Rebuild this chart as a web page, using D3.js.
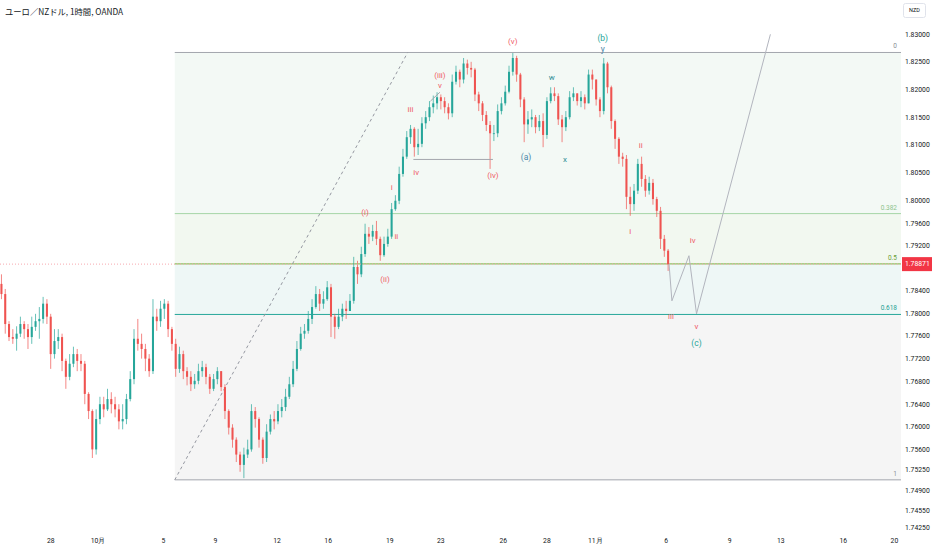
<!DOCTYPE html>
<html>
<head>
<meta charset="utf-8">
<script src="https://d3js.org/d3.v7.min.js"></script>
<style>
  html, body { margin: 0; padding: 0; background: #fff; }
  svg { display: block; font-family: Roboto, "Noto Sans", sans-serif; }
</style>
</head>
<body>
<svg id="chart" width="932" height="550"></svg>
<script>
// EUR/NZD 1h, candles grouped by 4 bars (bar index = trading hour)
const firstOpen = 1.7852;
const closes = [
  1.7834,1.7781,1.7758,1.7755,1.7764,1.7781,1.7772,1.7758,1.7776,1.7786,
  1.7790,1.7817,1.7794,1.7728,1.7751,1.7758,1.7716,1.7688,1.7711,1.7728,
  1.7716,1.7711,1.7658,1.7628,1.7561,1.7614,1.7640,1.7631,1.7649,1.7640,
  1.7631,1.7610,1.7614,1.7649,1.7684,1.7755,1.7746,1.7737,1.7720,1.7698,
  1.7794,1.7786,1.7808,1.7817,1.7772,1.7746,1.7702,1.7728,1.7698,1.7688,
  1.7675,1.7681,1.7698,1.7705,1.7688,1.7667,1.7684,1.7698,1.7670,1.7628,
  1.7599,1.7578,1.7552,1.7534,1.7552,1.7561,1.7628,1.7614,1.7578,1.7546,
  1.7592,1.7614,1.7610,1.7628,1.7635,1.7653,1.7675,1.7702,1.7737,1.7764,
  1.7769,1.7790,1.7811,1.7834,1.7817,1.7825,1.7846,1.7794,1.7776,1.7794,
  1.7808,1.7804,1.7822,1.7882,1.7869,1.7905,1.7941,1.7936,1.7946,1.7932,
  1.7903,1.7923,1.7936,1.7985,1.8000,1.8048,1.8079,1.8114,1.8129,1.8096,
  1.8102,1.8139,1.8150,1.8168,1.8175,1.8186,1.8179,1.8168,1.8157,1.8214,
  1.8232,1.8218,1.8247,1.8239,1.8236,1.8191,1.8175,1.8154,1.8136,1.8121,
  1.8121,1.8161,1.8175,1.8196,1.8232,1.8257,1.8227,1.8182,1.8137,1.8146,
  1.8150,1.8132,1.8143,1.8118,1.8179,1.8193,1.8188,1.8146,1.8132,1.8150,
  1.8186,1.8193,1.8179,1.8186,1.8175,1.8227,1.8218,1.8182,1.8161,1.8247,
  1.8204,1.8143,1.8111,1.8079,1.8075,1.8007,1.7994,1.8018,1.8066,1.8039,
  1.8018,1.8032,1.8003,1.7982,1.7932,1.7911,1.78871
];
const highs = [
  1.7869,1.7843,1.7786,1.7772,1.7777,1.7794,1.7786,1.7781,1.7794,1.7799,
  1.7811,1.7829,1.7825,1.7799,1.7772,1.7772,1.7764,1.7720,1.7728,1.7741,
  1.7737,1.7728,1.7716,1.7661,1.7631,1.7631,1.7653,1.7653,1.7667,1.7661,
  1.7653,1.7640,1.7640,1.7658,1.7698,1.7772,1.7790,1.7764,1.7746,1.7728,
  1.7825,1.7808,1.7822,1.7825,1.7822,1.7776,1.7755,1.7741,1.7734,1.7705,
  1.7698,1.7693,1.7711,1.7716,1.7711,1.7693,1.7693,1.7705,1.7698,1.7675,
  1.7631,1.7605,1.7582,1.7557,1.7564,1.7578,1.7640,1.7635,1.7617,1.7582,
  1.7605,1.7622,1.7628,1.7640,1.7649,1.7667,1.7688,1.7716,1.7751,1.7776,
  1.7781,1.7804,1.7825,1.7848,1.7843,1.7839,1.7857,1.7852,1.7799,1.7808,
  1.7817,1.7822,1.7834,1.7900,1.7893,1.7918,1.7959,1.7953,1.7957,1.7964,
  1.7936,1.7936,1.7950,1.7996,1.8010,1.8061,1.8093,1.8125,1.8136,1.8132,
  1.8129,1.8150,1.8161,1.8179,1.8189,1.8195,1.8191,1.8186,1.8175,1.8227,
  1.8243,1.8236,1.8257,1.8254,1.8250,1.8239,1.8196,1.8179,1.8161,1.8143,
  1.8136,1.8173,1.8186,1.8207,1.8243,1.8266,1.8261,1.8230,1.8186,1.8161,
  1.8164,1.8154,1.8154,1.8157,1.8186,1.8204,1.8204,1.8193,1.8154,1.8161,
  1.8197,1.8204,1.8193,1.8197,1.8191,1.8236,1.8236,1.8218,1.8186,1.8257,
  1.8250,1.8207,1.8146,1.8114,1.8086,1.8082,1.8025,1.8030,1.8075,1.8079,
  1.8046,1.8043,1.8039,1.8007,1.7989,1.7939,1.7914
];
const lows = [
  1.7825,1.7764,1.7751,1.7746,1.7734,1.7758,1.7755,1.7737,1.7746,1.7769,
  1.7755,1.7782,1.7781,1.7702,1.7720,1.7737,1.7698,1.7667,1.7682,1.7705,
  1.7698,1.7698,1.7640,1.7614,1.7546,1.7552,1.7605,1.7617,1.7628,1.7624,
  1.7617,1.7596,1.7596,1.7605,1.7645,1.7675,1.7734,1.7720,1.7698,1.7688,
  1.7693,1.7769,1.7776,1.7790,1.7758,1.7734,1.7688,1.7695,1.7684,1.7673,
  1.7663,1.7667,1.7675,1.7688,1.7675,1.7658,1.7663,1.7675,1.7663,1.7614,
  1.7587,1.7564,1.7539,1.7522,1.7511,1.7546,1.7557,1.7599,1.7564,1.7536,
  1.7539,1.7587,1.7596,1.7605,1.7617,1.7628,1.7649,1.7670,1.7698,1.7734,
  1.7755,1.7764,1.7781,1.7808,1.7804,1.7808,1.7822,1.7758,1.7755,1.7772,
  1.7786,1.7790,1.7804,1.7817,1.7852,1.7864,1.7900,1.7923,1.7928,1.7921,
  1.7893,1.7900,1.7918,1.7932,1.7982,1.7994,1.8043,1.8075,1.8102,1.8079,
  1.8082,1.8096,1.8129,1.8143,1.8157,1.8164,1.8164,1.8157,1.8146,1.8150,
  1.8209,1.8204,1.8211,1.8227,1.8222,1.8179,1.8161,1.8143,1.8125,1.8057,
  1.8107,1.8114,1.8155,1.8171,1.8193,1.8225,1.8214,1.8168,1.8105,1.8120,
  1.8132,1.8121,1.8125,1.8096,1.8111,1.8175,1.8179,1.8136,1.8105,1.8125,
  1.8146,1.8179,1.8171,1.8168,1.8164,1.8175,1.8200,1.8171,1.8150,1.8155,
  1.8193,1.8129,1.8093,1.8066,1.8061,1.7985,1.7973,1.7982,1.8012,1.8025,
  1.8007,1.8011,1.7993,1.7971,1.7914,1.7900,1.7875
];
const barsPerCandle = 4;
const lastPrice = 1.78871;

// time axis (bar index of each label)
const xTickBars = [54, 104, 173, 228, 293, 347, 412, 466, 532, 578, 629, 704, 771, 825, 891, 945];
const xTickLabels = ['28', '10月', '5', '9', '12', '16', '19', '23', '26', '28', '11月', '6', '9', '13', '16', '20'];

// price axis (1.78800 sits under the last-price tag)
const yTicks = [1.83, 1.825, 1.82, 1.815, 1.81, 1.805, 1.80, 1.796, 1.792, 1.784, 1.78,
  1.776, 1.772, 1.768, 1.764, 1.76, 1.756, 1.7525, 1.749, 1.7455, 1.7425];

// fib retracement anchors and levels
const fibStart = { bar: 185, price: 1.7508 };
const fibEnd = { bar: 431, price: 1.8267 };
const fibLevels = [0, 0.382, 0.5, 0.618, 1];
const fibLabels = ['0', '0.382', '0.5', '0.618', '1'];

// drawings
const ivLine = [[437, 1.8074], [521, 1.8074]];
const smallLine = [[455, 1.8179], [465, 1.8195]];
const projection = [[707, 1.78871], [710, 1.7822], [728, 1.7902], [736, 1.7799], [814, 1.8300]];

// wave labels: text, bar, price, group
const waveText  = ['(i)', '(ii)', '(iii)', '(iv)', '(v)', 'i', 'ii', 'iii', 'iv', 'v',
  'i', 'ii', 'iii', 'iv', 'v', '(a)', '(b)', 'w', 'x', 'y', '(c)'];
const waveBar   = [386, 407, 465, 521, 542, 414, 419, 434, 440, 465,
  666, 677, 709, 732, 736, 556, 637, 583, 597, 637, 736];
const wavePrice = [1.7980, 1.7861, 1.8225, 1.8045, 1.8288, 1.8025, 1.7937, 1.8164, 1.8052, 1.8207,
  1.7946, 1.8100, 1.7794, 1.7930, 1.7778, 1.8078, 1.8293, 1.8223, 1.8075, 1.8273, 1.7748];
const waveGroup = ['r', 'r', 'r', 'r', 'r', 'r', 'r', 'r', 'r', 'r',
  'r', 'r', 'r', 'r', 'r', 'a', 'b', 'w', 'w', 'a', 'b'];

const W = 932, H = 550, plotRight = 901;
const svg = d3.select('#chart');

const x = d3.scaleLinear().domain([0, 951.5]).range([-0.44, 900.6]);
const y = d3.scaleLog().domain([1.7425, 1.83]).range([527.7, 34.3]);

const candles = closes.map((c, i) => ({
  i, o: i === 0 ? firstOpen : closes[i - 1], c, h: highs[i], l: lows[i]
}));

svg.append('rect').attr('width', W).attr('height', H).attr('fill', '#fff');

// ---------- fib ----------
const fibPrice = (lv) => fibEnd.price - lv * (fibEnd.price - fibStart.price);
const fibLine = ['#a3a6ad', '#a5d6a7', '#7cb342', '#26a69a', '#a3a6ad'];
const fibFill = ['#f3f9f5', '#f2f8f0', '#eef7f6', '#f5f5f5'];
const fibText = ['#8a8d94', '#8cc48b', '#6a9f35', '#22a093', '#8a8d94'];
const fx0 = x(fibStart.bar);

svg.append('g').selectAll('rect')
  .data(d3.range(fibLevels.length - 1))
  .join('rect')
  .attr('x', fx0)
  .attr('y', (d) => y(fibPrice(fibLevels[d])))
  .attr('width', plotRight - fx0)
  .attr('height', (d) => y(fibPrice(fibLevels[d + 1])) - y(fibPrice(fibLevels[d])))
  .attr('fill', (d) => fibFill[d]);

svg.append('g').selectAll('line')
  .data(fibLevels)
  .join('line')
  .attr('x1', fx0).attr('x2', plotRight)
  .attr('y1', (d) => y(fibPrice(d))).attr('y2', (d) => y(fibPrice(d)))
  .attr('stroke', (d, i) => fibLine[i]).attr('stroke-width', 1);

svg.append('g').selectAll('text')
  .data(fibLevels)
  .join('text')
  .attr('x', plotRight - 4)
  .attr('y', (d) => y(fibPrice(d)) - 4)
  .attr('text-anchor', 'end')
  .attr('font-size', 6.5)
  .attr('fill', (d, i) => fibText[i])
  .text((d, i) => fibLabels[i]);

// dashed trend line between fib anchors
svg.append('line')
  .attr('x1', x(fibStart.bar)).attr('y1', y(fibStart.price))
  .attr('x2', x(fibEnd.bar)).attr('y2', y(fibEnd.price))
  .attr('stroke', '#9598a1').attr('stroke-width', 1).attr('stroke-dasharray', '3,3');

// ---------- candles ----------
const step = x(barsPerCandle) - x(0);
const cx = (d) => x(d.i * barsPerCandle + barsPerCandle / 2);
const up = '#26a69a', down = '#ef5350';
const gC = svg.append('g');
gC.selectAll('line')
  .data(candles)
  .join('line')
  .attr('x1', cx).attr('x2', cx)
  .attr('y1', (d) => y(d.h)).attr('y2', (d) => y(d.l))
  .attr('stroke', (d) => d.c >= d.o ? up : down)
  .attr('stroke-width', 0.7);
gC.selectAll('rect')
  .data(candles)
  .join('rect')
  .attr('x', (d) => cx(d) - step * 0.27)
  .attr('width', step * 0.54)
  .attr('y', (d) => y(Math.max(d.o, d.c)))
  .attr('height', (d) => Math.max(0.8, Math.abs(y(d.o) - y(d.c))))
  .attr('fill', (d) => d.c >= d.o ? up : down);

// current price line
svg.append('line')
  .attr('x1', 0).attr('x2', plotRight)
  .attr('y1', y(lastPrice)).attr('y2', y(lastPrice))
  .attr('stroke', '#f7a9b0').attr('stroke-width', 1).attr('stroke-dasharray', '1,2');

// ---------- drawings ----------
const lineGen = d3.line().x((d) => x(d[0])).y((d) => y(d[1]));
[ivLine, smallLine].forEach((pts) => {
  svg.append('path').attr('d', lineGen(pts))
    .attr('fill', 'none').attr('stroke', '#a3a6ad').attr('stroke-width', 1);
});
svg.append('path').attr('d', lineGen(projection))
  .attr('fill', 'none').attr('stroke', '#b2b5be').attr('stroke-width', 1);

const waveColor = { r: '#ef5a66', a: '#4b88a8', b: '#26a69a', w: '#2f8f95' };
svg.append('g').selectAll('text')
  .data(waveText)
  .join('text')
  .attr('x', (d, i) => x(waveBar[i]))
  .attr('y', (d, i) => y(wavePrice[i]))
  .attr('dy', '0.35em')
  .attr('text-anchor', 'middle')
  .attr('font-size', (d, i) => waveGroup[i] === 'b' || waveGroup[i] === 'a' ? 8.5 : 8)
  .attr('fill', (d, i) => waveColor[waveGroup[i]])
  .text((d) => d);

// ---------- axes ----------
svg.append('g').selectAll('text')
  .data(yTicks)
  .join('text')
  .attr('x', 905)
  .attr('y', (d) => y(d))
  .attr('dy', '0.35em')
  .attr('font-size', 6.8)
  .attr('fill', '#131722')
  .text((d) => d.toFixed(5));

svg.append('g').selectAll('text')
  .data(xTickBars)
  .join('text')
  .attr('x', (d) => x(d))
  .attr('y', 541)
  .attr('dy', '0.35em')
  .attr('text-anchor', 'middle')
  .attr('font-size', 6.8)
  .attr('fill', '#131722')
  .text((d, i) => xTickLabels[i]);

// last price tag
const ly = y(lastPrice);
svg.append('rect').attr('x', 902).attr('y', ly - 7).attr('width', 30).attr('height', 14)
  .attr('fill', '#f23645');
svg.append('text').attr('x', 905).attr('y', ly).attr('dy', '0.35em')
  .attr('font-size', 6.8).attr('fill', '#fff').text(lastPrice.toFixed(5));

// currency box
svg.append('rect').attr('x', 903.5).attr('y', 3.5).attr('width', 22).attr('height', 14).attr('rx', 2)
  .attr('fill', '#fff').attr('stroke', '#e0e3eb');
svg.append('text').attr('x', 914.5).attr('y', 10.5).attr('dy', '0.35em').attr('text-anchor', 'middle')
  .attr('font-size', 5.5).attr('fill', '#131722').text('NZD');

// title
svg.append('text').attr('x', 5).attr('y', 12).attr('dy', '0.35em')
  .attr('font-family', '"Noto Sans CJK JP", sans-serif')
  .attr('font-size', 8.3).attr('fill', '#131722')
  .text('ユーロ／NZドル, 1時間, OANDA');
</script>
</body>
</html>
